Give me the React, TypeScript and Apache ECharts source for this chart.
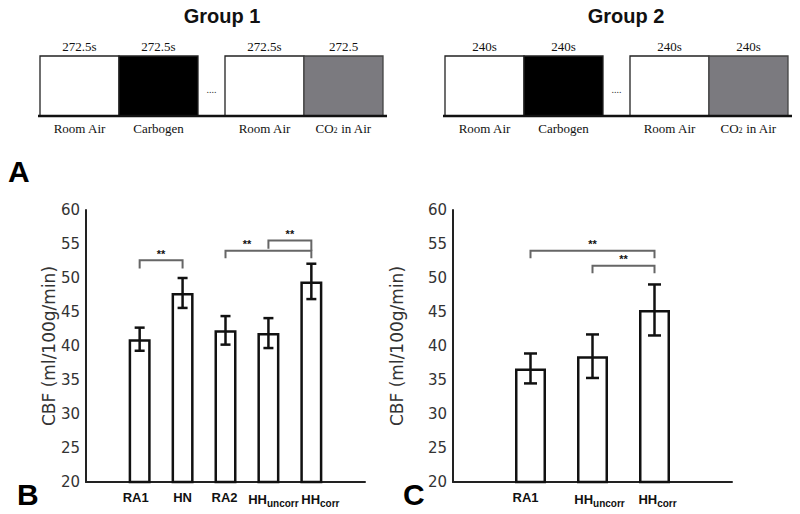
import React, { useEffect, useRef } from 'react';
import * as echarts from 'echarts';

// ---- Data ----
const group1Categories = ['RA1', 'HN', 'RA2', 'HH_uncorr', 'HH_corr'];
const group1Means = [41.0, 47.8, 42.3, 41.9, 49.5];
const group1Errors = [1.7, 2.2, 2.1, 2.2, 2.6];
// [fromIndex, toIndex, top, leftLegEnd, rightLegEnd, starsAt]
const group1Brackets = [
  [0, 1, 52.6, 51.4, 51.4, 0.5],
  [2, 4, 54.0, 52.9, 52.9, 2.5],
  [3, 4, 55.5, 54.3, 54.0, 3.5],
];

const group2Categories = ['RA1', 'HH_uncorr', 'HH_corr'];
const group2Means = [36.7, 38.5, 45.3];
const group2Errors = [2.2, 3.2, 3.75];
const group2Brackets = [
  [0, 2, 54.0, 52.9, 52.9, 1],
  [1, 2, 51.8, 50.7, 50.7, 1.5],
];

const yMin = 20;
const yMax = 60;
const yInterval = 5;
const yAxisName = 'CBF (ml/100g/min)';

const phaseLabels = ['Room Air', 'Carbogen', 'Room Air', 'CO{s|2} in Air'];
const phaseFills = ['#ffffff', '#000000', '#ffffff', '#7b7a7f'];
const group1Durations = ['272.5s', '272.5s', '272.5s', '272.5'];
const group2Durations = ['240s', '240s', '240s', '240s'];
const groupTitles = ['Group 1', 'Group 2'];
const panelLetters = ['A', 'B', 'C'];

// ---- Helpers ----
function xAxisFor(gridIndex: number, cats: string[], shifts: number[]) {
  const rich: any = {
    b: { fontFamily: 'Liberation Sans', fontWeight: 'bold', fontSize: 13, color: '#111' },
    s: { fontFamily: 'Liberation Sans', fontWeight: 'bold', fontSize: 10, color: '#111', padding: [7, 0, 0, 0] },
  };
  shifts.forEach((sh, i) => {
    rich['g' + i] = { width: Math.abs(sh) * 2, fontSize: 13 };
  });
  return {
    type: 'value',
    gridIndex,
    min: -1.25,
    max: cats.length - 1 + 1.25,
    interval: 0.25,
    splitLine: { show: false },
    axisTick: { show: false },
    axisLine: { show: true, onZero: false, lineStyle: { color: '#222', width: 2 } },
    axisLabel: {
      margin: 9,
      formatter: (v: number) => {
        const i = Math.round(v);
        if (Math.abs(v - i) > 1e-6 || i < 0 || i >= cats.length) return '';
        const parts = cats[i].split('_');
        const lab = parts.length === 2 ? `{b|${parts[0]}}{s|${parts[1]}}` : `{b|${cats[i]}}`;
        const sh = shifts[i] || 0;
        if (sh > 0) return `{g${i}| }${lab}`;
        if (sh < 0) return `${lab}{g${i}| }`;
        return lab;
      },
      rich,
    },
  };
}

function yAxisFor(gridIndex: number, nameGap: number) {
  return {
    type: 'value',
    gridIndex,
    min: yMin,
    max: yMax,
    interval: yInterval,
    splitLine: { show: false },
    axisTick: { show: false },
    axisLine: { show: true, onZero: false, lineStyle: { color: '#222', width: 2 } },
    axisLabel: { fontFamily: 'DejaVu Sans', fontSize: 15, color: '#333', margin: 6 },
    name: yAxisName,
    nameLocation: 'middle',
    nameGap,
    nameTextStyle: { fontFamily: 'DejaVu Sans', fontSize: 17, color: '#333' },
  };
}

function barSeries(idx: number, means: number[], width: number) {
  return {
    type: 'bar',
    xAxisIndex: idx,
    yAxisIndex: idx,
    barWidth: width,
    clip: true,
    data: means.map((v, i) => [i, v]),
    itemStyle: { color: '#ffffff', borderColor: '#111', borderWidth: 2.5 },
    z: 2,
  };
}

function errorSeries(idx: number, means: number[], errs: number[], cap: number) {
  return {
    type: 'custom',
    xAxisIndex: idx,
    yAxisIndex: idx,
    z: 3,
    encode: { x: 0, y: [1, 2] },
    data: means.map((m, i) => [i, m - errs[i], m + errs[i]]),
    renderItem: (params: any, api: any) => {
      const x = api.value(0);
      const lo = api.coord([x, api.value(1)]);
      const hi = api.coord([x, api.value(2)]);
      const st = { stroke: '#111', lineWidth: 2.5 };
      return {
        type: 'group',
        children: [
          { type: 'line', shape: { x1: lo[0], y1: lo[1], x2: hi[0], y2: hi[1] }, style: st },
          { type: 'line', shape: { x1: lo[0] - cap, y1: lo[1], x2: lo[0] + cap, y2: lo[1] }, style: st },
          { type: 'line', shape: { x1: hi[0] - cap, y1: hi[1], x2: hi[0] + cap, y2: hi[1] }, style: st },
        ],
      };
    },
  };
}

function bracketSeries(idx: number, brackets: number[][]) {
  return {
    type: 'custom',
    xAxisIndex: idx,
    yAxisIndex: idx,
    z: 4,
    encode: { x: [0, 1, 5], y: [2, 3, 4] },
    data: brackets,
    renderItem: (params: any, api: any) => {
      const a = api.value(0);
      const b = api.value(1);
      const top = api.value(2);
      const p1 = api.coord([a, api.value(3)]);
      const p2 = api.coord([a, top]);
      const p3 = api.coord([b, top]);
      const p4 = api.coord([b, api.value(4)]);
      const s = api.coord([api.value(5), top]);
      return {
        type: 'group',
        children: [
          {
            type: 'polyline',
            shape: { points: [p1, p2, p3, p4] },
            style: { stroke: '#666', lineWidth: 2, fill: 'none' },
          },
          {
            type: 'text',
            x: s[0],
            y: s[1] - 1,
            style: {
              text: '**',
              fill: '#111',
              font: 'bold 11px "Liberation Sans"',
              align: 'center',
              verticalAlign: 'bottom',
            },
          },
        ],
      };
    },
  };
}

function schematic(x0: number, durations: string[], title: string, titleX: number) {
  const boxW = 79;
  const gap = 27;
  const top = 56;
  const h = 60;
  const els: any[] = [];
  const xs = [x0, x0 + boxW, x0 + 2 * boxW + gap, x0 + 3 * boxW + gap];
  xs.forEach((bx, i) => {
    els.push({
      type: 'rect',
      shape: { x: bx, y: top, width: boxW, height: h },
      style: { fill: phaseFills[i], stroke: i === 3 ? '#444' : '#222', lineWidth: 1.3 },
    });
    els.push({
      type: 'text',
      x: bx + boxW / 2,
      y: 46,
      style: {
        text: durations[i],
        font: '13px "Liberation Serif"',
        fill: '#111',
        align: 'center',
        verticalAlign: 'middle',
      },
    });
    els.push({
      type: 'text',
      x: bx + boxW / 2,
      y: 128,
      style: {
        text: phaseLabels[i],
        font: '13px "Liberation Serif"',
        fill: '#111',
        align: 'center',
        verticalAlign: 'middle',
        rich: { s: { font: '8px "Liberation Serif"', fill: '#111', padding: [4, 0, 0, 0] } },
      },
    });
  });
  els.push({
    type: 'line',
    shape: { x1: x0 - 2, y1: 116, x2: x0 + 4 * boxW + gap + 4, y2: 116 },
    style: { stroke: '#111', lineWidth: 2.5 },
  });
  els.push({
    type: 'text',
    x: x0 + 2 * boxW + gap / 2,
    y: 89,
    style: { text: '....', font: '10px "Liberation Serif"', fill: '#333', align: 'center', verticalAlign: 'middle' },
  });
  els.push({
    type: 'text',
    x: titleX,
    y: 16,
    style: { text: title, font: 'bold 20px "Liberation Sans"', fill: '#111', align: 'center', verticalAlign: 'middle' },
  });
  return els;
}

export default function App() {
  const ref = useRef<HTMLDivElement>(null);
  useEffect(() => {
    if (!ref.current) return;
    const chart = echarts.init(ref.current, undefined, { renderer: 'svg' });
    const letterStyle = { font: 'bold 30px "Liberation Sans"', fill: '#000' };
    chart.setOption({
      animation: false,
      backgroundColor: '#ffffff',
      grid: [
        { left: 86, top: 210, width: 279, height: 272 },
        { left: 453, top: 210, width: 279, height: 272 },
      ],
      xAxis: [
        xAxisFor(0, group1Categories, [-4, 0, -1, 5, 9]),
        xAxisFor(1, group2Categories, [-5, 7, 3]),
      ],
      yAxis: [yAxisFor(0, 24), yAxisFor(1, 48)],
      series: [
        barSeries(0, group1Means, 22),
        errorSeries(0, group1Means, group1Errors, 5),
        bracketSeries(0, group1Brackets),
        barSeries(1, group2Means, 31),
        errorSeries(1, group2Means, group2Errors, 6.5),
        bracketSeries(1, group2Brackets),
      ],
      graphic: [
        ...schematic(40, group1Durations, groupTitles[0], 222),
        ...schematic(445, group2Durations, groupTitles[1], 626),
        { type: 'text', left: 8, top: 156, style: { text: panelLetters[0], ...letterStyle } },
        { type: 'text', left: 17, top: 479, style: { text: panelLetters[1], ...letterStyle } },
        { type: 'text', left: 403, top: 479, style: { text: panelLetters[2], ...letterStyle } },
      ],
    });
    return () => chart.dispose();
  }, []);
  return (
    <div
      ref={ref}
      style={{ position: 'fixed', left: 0, top: 0, width: 800, height: 514, background: '#fff' }}
    />
  );
}
